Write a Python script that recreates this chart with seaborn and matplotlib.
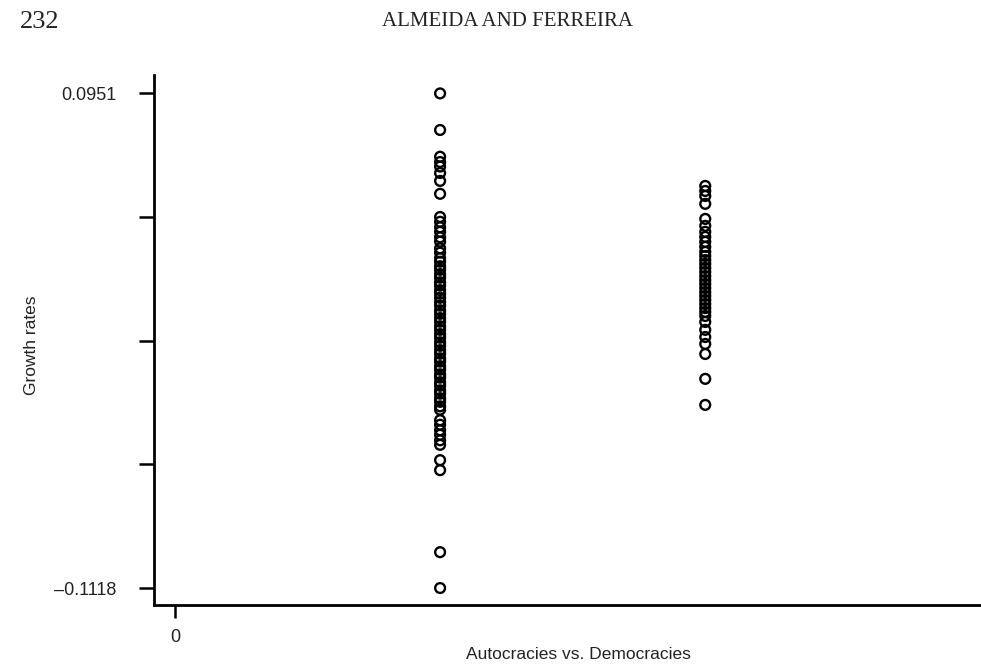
import numpy as np
import pandas as pd
import matplotlib
matplotlib.use("Agg")
import matplotlib.pyplot as plt
import seaborn as sns

# growth rates
autocracy_growth = [
    0.0951, 0.0798, 0.0686, 0.0664, 0.0645, 0.0618, 0.0585, 0.0531,
    0.0434, 0.0414, 0.0391, 0.0372, 0.0349, 0.0331, 0.0303, 0.0285,
    0.0262, 0.0247, 0.0228, 0.0213, 0.0195, 0.0180, 0.0161, 0.0147,
    0.0128, 0.0113, 0.0096, 0.0078, 0.0063, 0.0044, 0.0029, 0.0011,
    -0.0004, -0.0023, -0.0038, -0.0056, -0.0071, -0.0090, -0.0105,
    -0.0123, -0.0138, -0.0157, -0.0171, -0.0190, -0.0205, -0.0224,
    -0.0238, -0.0257, -0.0272, -0.0291, -0.0305, -0.0324, -0.0339,
    -0.0358, -0.0372, -0.0416, -0.0435, -0.0458, -0.0477, -0.0500,
    -0.0519, -0.0583, -0.0625, -0.0968, -0.1118,
]
democracy_growth = [
    0.0564, 0.0543, 0.0522, 0.0489, 0.0426, 0.0397, 0.0372, 0.0351,
    0.0330, 0.0309, 0.0288, 0.0271, 0.0254, 0.0238, 0.0221, 0.0204,
    0.0187, 0.0170, 0.0154, 0.0137, 0.0120, 0.0104, 0.0087, 0.0070,
    0.0053, 0.0037, 0.0020, -0.0005, -0.0038, -0.0068, -0.0097,
    -0.0139, -0.0243, -0.0352,
]
group_codes = [1, 2]
y_tick_values = [0.0951, 0.043375, -0.00835, -0.060075, -0.1118]
y_tick_labels = ["0.0951", "", "", "", "\u20130.1118"]

df = pd.DataFrame({
    "regime": [group_codes[0]] * len(autocracy_growth) + [group_codes[1]] * len(democracy_growth),
    "growth": autocracy_growth + democracy_growth,
})

sns.set_style("ticks")
plt.rcParams["font.family"] = ["Liberation Sans", "DejaVu Sans"]

fig = plt.figure(figsize=(9.81, 6.65), dpi=100)
ax = fig.add_axes([154 / 981, 1 - 605 / 665, 1 - 154 / 981, (605 - 75) / 665])

sns.scatterplot(data=df, x="regime", y="growth", ax=ax, marker="o",
                facecolor="none", edgecolor="black", linewidth=1.7, s=50,
                legend=False)

ax.set_xlim(-0.079, 3.04)
ax.set_ylim(-0.1189, 0.1028)
ax.set_xticks([0])
ax.set_xticklabels(["0"])
ax.set_yticks(y_tick_values)
ax.set_yticklabels(y_tick_labels)
ax.tick_params(axis="both", direction="out", width=1.8,
               color="black", labelsize=13, labelcolor="#222222",
               left=True, bottom=True)
ax.tick_params(axis="y", length=11, pad=16)
ax.tick_params(axis="x", length=9, pad=8)

sns.despine(ax=ax, top=True, right=True)
for side in ["left", "bottom"]:
    ax.spines[side].set_linewidth(2.0)
    ax.spines[side].set_color("black")

ax.set_ylabel("Growth rates", fontsize=12.5, color="#222222")
ax.yaxis.set_label_coords(-0.139, 0.49)
ax.set_xlabel("Autocracies vs. Democracies", fontsize=12.5, color="#222222")
ax.xaxis.set_label_coords(0.513, -0.08)

fig.text(20 / 981, 1 - 22 / 665, "232", family="Liberation Serif",
         fontsize=19, va="center", ha="left", color="#222222")
fig.text(507 / 981, 1 - 22 / 665, "ALMEIDA AND FERREIRA", family="Liberation Serif",
         fontsize=15, va="center", ha="center", color="#222222")

fig.savefig("out.png", dpi=100, facecolor="white")
